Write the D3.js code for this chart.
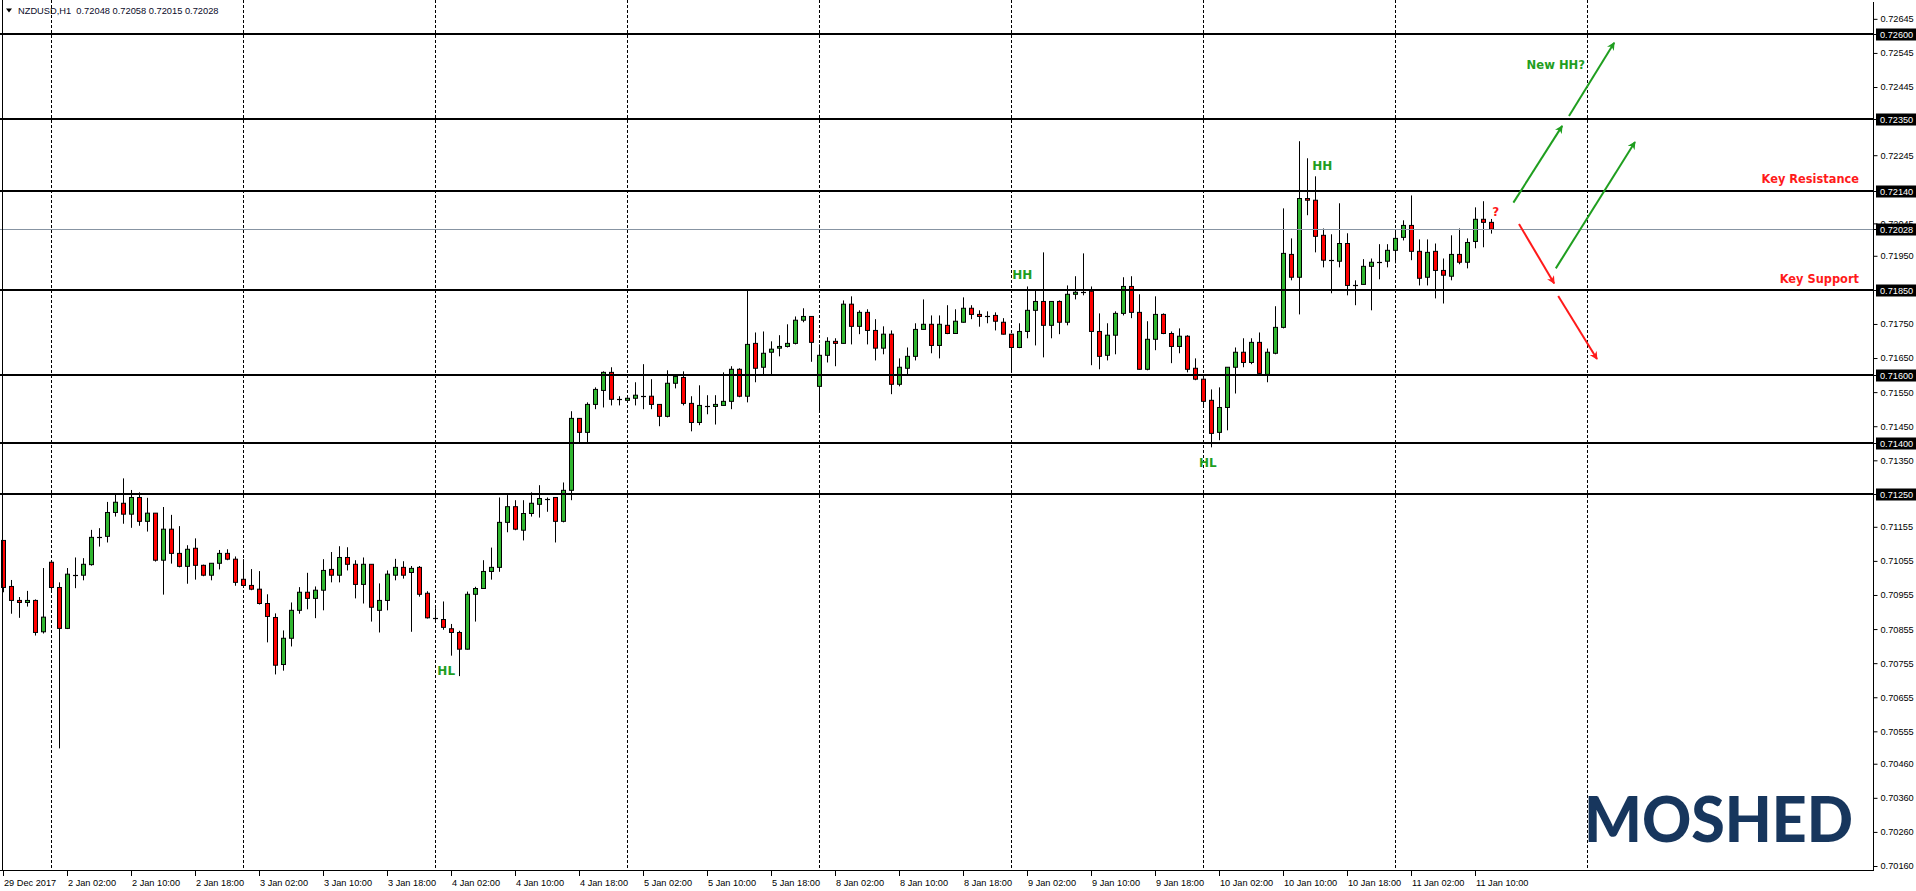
<!DOCTYPE html>
<html><head><meta charset="utf-8">
<script src="https://cdn.jsdelivr.net/npm/d3@7"></script>
<style>html,body{margin:0;padding:0;background:#fff;overflow:hidden}</style>
</head><body><svg id="c" width="1916" height="891"></svg>
<script>
// ---------- DATA ----------
const sessions = [["29 Dec",18,23],["2 Jan",0,23],["3 Jan",0,23],["4 Jan",0,23],["5 Jan",0,23],["8 Jan",0,23],["9 Jan",0,23],["10 Jan",0,23],["11 Jan",0,12]];
const times = [];
sessions.forEach(([d,h0,h1]) => { for (let h = h0; h <= h1; h++) times.push(d + " " + String(h).padStart(2,"0") + ":00"); });

const open = [0.71115,0.70980,0.70939,0.70933,0.70939,0.70847,
0.71051,0.70977,0.70857,0.71014,0.71013,0.71044,0.71125,0.71127,0.71197,0.71224,0.71192,0.71241,0.71171,0.71195,0.71057,0.71148,0.71077,0.71039,0.71092,0.71042,0.71013,0.71048,0.71077,0.71060,
0.71001,0.70983,0.70972,0.70930,0.70889,0.70751,0.70828,0.70910,0.70963,0.70945,0.70969,0.71030,0.71013,0.71065,0.71045,0.70986,0.71045,0.70910,0.70939,0.71013,0.71036,0.71021,0.71036,0.70960,
0.70886,0.70883,0.70856,0.70845,0.70796,0.70957,0.70974,0.71024,0.71036,0.71168,0.71214,0.71145,0.71194,0.71221,0.71238,0.71241,0.71171,0.71262,0.71473,0.71432,0.71514,0.71555,0.71608,0.71529,
0.71526,0.71532,0.71539,0.71538,0.71514,0.71479,0.71576,0.71593,0.71517,0.71461,0.71509,0.71508,0.71511,0.71523,0.71617,0.71538,0.71693,0.71623,0.71667,0.71679,0.71684,0.71693,0.71761,0.71772,
0.71567,0.71658,0.71699,0.71693,0.71808,0.71743,0.71784,0.71731,0.71679,0.71720,0.71573,0.71620,0.71655,0.71734,0.71749,0.71687,0.71746,0.71722,0.71755,0.71796,0.71778,0.71774,0.71775,0.71755,
0.71720,0.71681,0.71728,0.71790,0.71816,0.71746,0.71816,0.71755,0.71837,0.71843,0.71846,0.71728,0.71658,0.71717,0.71781,0.71860,0.71784,0.71617,0.71705,0.71778,0.71722,0.71684,0.71714,0.71620,
0.71588,0.71526,0.71432,0.71505,0.71623,0.71667,0.71637,0.71696,0.71602,0.71664,0.71740,0.71954,0.71887,0.72118,0.72113,0.72010,0.71937,0.71934,0.71986,0.71865,0.71866,0.71919,0.71931,0.71934,
0.71966,0.72004,0.72039,0.71963,0.71887,0.71963,0.71907,0.71890,0.71954,0.71931,0.71992,0.72057,0.72048];
const high = [0.71115,0.70999,0.70949,0.70967,0.70942,0.71034,
0.71056,0.70992,0.71034,0.71065,0.71063,0.71146,0.71151,0.71228,0.71250,0.71297,0.71263,0.71256,0.71240,0.71195,0.71213,0.71190,0.71157,0.71101,0.71121,0.71044,0.71048,0.71087,0.71089,0.71068,
0.71060,0.71031,0.71025,0.70957,0.70901,0.70851,0.70933,0.70978,0.71020,0.70980,0.71060,0.71081,0.71098,0.71095,0.71057,0.71065,0.71045,0.70989,0.71027,0.71061,0.71054,0.71040,0.71040,0.70966,
0.70916,0.70936,0.70870,0.70850,0.70965,0.70979,0.71057,0.71094,0.71241,0.71248,0.71233,0.71233,0.71256,0.71277,0.71241,0.71242,0.71285,0.71494,0.71474,0.71520,0.71564,0.71611,0.71623,0.71538,
0.71532,0.71579,0.71632,0.71588,0.71514,0.71614,0.71602,0.71611,0.71538,0.71570,0.71541,0.71541,0.71608,0.71626,0.71620,0.71847,0.71725,0.71728,0.71699,0.71717,0.71749,0.71772,0.71796,0.71773,
0.71690,0.71711,0.71708,0.71819,0.71831,0.71790,0.71793,0.71764,0.71743,0.71731,0.71649,0.71681,0.71752,0.71822,0.71775,0.71775,0.71805,0.71793,0.71828,0.71805,0.71790,0.71787,0.71784,0.71767,
0.71721,0.71752,0.71860,0.71849,0.71960,0.71817,0.71819,0.71863,0.71890,0.71957,0.71860,0.71781,0.71752,0.71787,0.71887,0.71890,0.71837,0.71758,0.71831,0.71781,0.71728,0.71737,0.71717,0.71649,
0.71591,0.71558,0.71564,0.71623,0.71681,0.71708,0.71708,0.71725,0.71678,0.71802,0.72089,0.72001,0.72286,0.72236,0.72183,0.72030,0.72013,0.72104,0.72016,0.71878,0.71940,0.71942,0.71984,0.71984,
0.72028,0.72054,0.72127,0.71998,0.71998,0.71986,0.71942,0.72010,0.72030,0.72001,0.72092,0.72110,0.72058];
const low = [0.70963,0.70900,0.70888,0.70921,0.70836,0.70842,
0.70970,0.70505,0.70855,0.70975,0.70998,0.71041,0.71097,0.71109,0.71185,0.71164,0.71152,0.71158,0.71141,0.71053,0.70956,0.71047,0.71036,0.70988,0.71000,0.71010,0.70998,0.71030,0.71057,0.70982,
0.70980,0.70969,0.70927,0.70816,0.70722,0.70733,0.70804,0.70900,0.70913,0.70887,0.70910,0.70992,0.70992,0.71027,0.70945,0.70930,0.70877,0.70845,0.70910,0.70998,0.71003,0.70847,0.70950,0.70886,
0.70882,0.70853,0.70777,0.70717,0.70795,0.70877,0.70973,0.71000,0.71023,0.71139,0.71145,0.71115,0.71185,0.71182,0.71199,0.71109,0.71168,0.71233,0.71403,0.71403,0.71500,0.71505,0.71511,0.71511,
0.71523,0.71511,0.71500,0.71500,0.71450,0.71476,0.71561,0.71511,0.71435,0.71453,0.71485,0.71455,0.71510,0.71500,0.71535,0.71520,0.71579,0.71602,0.71602,0.71655,0.71681,0.71690,0.71755,0.71639,
0.71491,0.71637,0.71626,0.71692,0.71690,0.71720,0.71690,0.71643,0.71661,0.71544,0.71567,0.71602,0.71643,0.71733,0.71664,0.71649,0.71720,0.71721,0.71754,0.71764,0.71742,0.71752,0.71731,0.71719,
0.71608,0.71679,0.71708,0.71687,0.71652,0.71708,0.71720,0.71746,0.71822,0.71834,0.71629,0.71617,0.71643,0.71661,0.71775,0.71767,0.71616,0.71614,0.71673,0.71720,0.71635,0.71664,0.71608,0.71585,
0.71510,0.71388,0.71409,0.71438,0.71546,0.71623,0.71632,0.71604,0.71579,0.71661,0.71737,0.71878,0.71778,0.72069,0.71960,0.71916,0.71840,0.71916,0.71834,0.71805,0.71865,0.71790,0.71881,0.71916,
0.71928,0.71995,0.71937,0.71863,0.71863,0.71825,0.71810,0.71878,0.71925,0.71913,0.71972,0.71975,0.72015];
const close = [0.70977,0.70939,0.70933,0.70939,0.70845,0.70890,
0.70977,0.70857,0.71016,0.71015,0.71045,0.71124,0.71126,0.71197,0.71227,0.71192,0.71241,0.71171,0.71195,0.71057,0.71148,0.71077,0.71039,0.71089,0.71042,0.71013,0.71048,0.71077,0.71060,0.70992,
0.70983,0.70972,0.70930,0.70892,0.70749,0.70828,0.70910,0.70963,0.70945,0.70969,0.71027,0.71013,0.71065,0.71045,0.70986,0.71045,0.70919,0.70939,0.71016,0.71036,0.71013,0.71033,0.70957,0.70888,
0.70885,0.70860,0.70845,0.70796,0.70957,0.70974,0.71024,0.71036,0.71168,0.71214,0.71148,0.71194,0.71224,0.71238,0.71239,0.71171,0.71262,0.71473,0.71432,0.71514,0.71558,0.71608,0.71529,0.71529,
0.71532,0.71541,0.71540,0.71514,0.71479,0.71576,0.71596,0.71517,0.71461,0.71511,0.71510,0.71514,0.71523,0.71617,0.71538,0.71690,0.71620,0.71664,0.71676,0.71684,0.71693,0.71761,0.71772,0.71696,
0.71658,0.71699,0.71693,0.71808,0.71743,0.71784,0.71731,0.71679,0.71720,0.71573,0.71623,0.71655,0.71734,0.71749,0.71687,0.71749,0.71722,0.71758,0.71796,0.71778,0.71772,0.71774,0.71758,0.71720,
0.71681,0.71728,0.71790,0.71816,0.71746,0.71816,0.71755,0.71837,0.71843,0.71843,0.71728,0.71655,0.71717,0.71781,0.71860,0.71784,0.71617,0.71705,0.71778,0.71722,0.71684,0.71714,0.71617,0.71588,
0.71523,0.71429,0.71505,0.71623,0.71667,0.71637,0.71696,0.71605,0.71667,0.71740,0.71957,0.71887,0.72118,0.72113,0.72007,0.71937,0.71936,0.71986,0.71863,0.71864,0.71919,0.71931,0.71933,0.71966,
0.72001,0.72039,0.71963,0.71884,0.71960,0.71907,0.71893,0.71954,0.71931,0.71989,0.72057,0.72048,0.72028];

const levels = [0.72600, 0.72350, 0.72140, 0.71850, 0.71600, 0.71400, 0.71250];
const bidPrice = 0.72028;
const priceTicks = [0.72645,0.72545,0.72445,0.72245,0.72045,0.71950,0.71750,0.71650,0.71550,0.71450,0.71350,
  0.71155,0.71055,0.70955,0.70855,0.70755,0.70655,0.70555,0.70460,0.70360,0.70260,0.70160];
const xTickLabels = ["29 Dec 2017","2 Jan 02:00","2 Jan 10:00","2 Jan 18:00","3 Jan 02:00","3 Jan 10:00","3 Jan 18:00",
  "4 Jan 02:00","4 Jan 10:00","4 Jan 18:00","5 Jan 02:00","5 Jan 10:00","5 Jan 18:00","8 Jan 02:00","8 Jan 10:00",
  "8 Jan 18:00","9 Jan 02:00","9 Jan 10:00","9 Jan 18:00","10 Jan 02:00","10 Jan 10:00","10 Jan 18:00","11 Jan 02:00","11 Jan 10:00"];
const gridDays = ["2 Jan","3 Jan","4 Jan","5 Jan","8 Jan","9 Jan","10 Jan","11 Jan","12 Jan"];
const title = "NZDUSD,H1  0.72048 0.72058 0.72015 0.72028";

// annotations: [bar index, price]
const greenArrows = [[[188.8,0.72106],[194.9,0.72331]], [[195.75,0.72360],[201.4,0.72575]], [[194.1,0.71913],[204.0,0.72284]]];
const redArrows = [[[189.5,0.72043],[193.9,0.71869]], [[194.4,0.71832],[199.25,0.71647]]];
const notes = [
  {t:"HL", i:55.4, p:0.70720, c:"g", a:"middle", s:12},
  {t:"HH", i:127.4, p:0.71882, c:"g", a:"middle", s:12},
  {t:"HH", i:164.9, p:0.72202, c:"g", a:"middle", s:12},
  {t:"HL", i:150.6, p:0.71330, c:"g", a:"middle", s:12},
  {t:"?", i:186.6, p:0.72067, c:"r", a:"middle", s:12},
  {t:"New HH?", i:194.1, p:0.72498, c:"g", a:"middle", s:11.6},
  {t:"Key Resistance", i:232.0, p:0.72163, c:"r", a:"end", s:11.4},
  {t:"Key Support", i:232.0, p:0.71870, c:"r", a:"end", s:11.4}
];

// ---------- CHART ----------
const W = 1916, H = 891;
const plotL = 0, plotR = 1873, plotB = 870;
const GREEN = "#2fb52f", RED = "#ff0000", AGREEN = "#1f9e1f", ARED = "#ff1a1a";
const svg = d3.select("#c");
const x = d3.scaleLinear().domain([0, times.length - 1]).range([3, 3 + 8 * (times.length - 1)]);
const y = d3.scaleLinear().domain([0.72140, 0.70160]).range([191, 866]);

const bars = times.map((t, k) => ({t, k, o: open[k], h: high[k], l: low[k], c: close[k]}));

// vertical dashed grid at day starts
let gridIdx = [];
gridDays.forEach(d => {
  const k = times.indexOf(d + " 00:00");
  gridIdx.push(k >= 0 ? k : gridIdx[gridIdx.length - 1] + 24);
});
svg.append("g").selectAll("line").data(gridIdx).join("line")
  .attr("x1", k => x(k) + 0.5).attr("x2", k => x(k) + 0.5)
  .attr("y1", 0).attr("y2", plotB)
  .attr("stroke", "#000").attr("stroke-width", 1).attr("stroke-dasharray", "3,2");

// candles
const cg = svg.append("g");
cg.selectAll("line.wick").data(bars).join("line").attr("class", "wick")
  .attr("x1", d => x(d.k) + 0.5).attr("x2", d => x(d.k) + 0.5)
  .attr("y1", d => y(d.h)).attr("y2", d => y(d.l))
  .attr("stroke", "#000").attr("stroke-width", 1);
const isDoji = d => Math.abs(y(d.o) - y(d.c)) < 1.2;
cg.selectAll("rect.body").data(bars.filter(d => !isDoji(d))).join("rect").attr("class", "body")
  .attr("x", d => x(d.k) - 1.5).attr("width", 4)
  .attr("y", d => y(Math.max(d.o, d.c))).attr("height", d => Math.abs(y(d.o) - y(d.c)))
  .attr("fill", d => d.c > d.o ? GREEN : RED)
  .attr("stroke", "#000").attr("stroke-width", 1);
cg.selectAll("line.doji").data(bars.filter(isDoji)).join("line").attr("class", "doji")
  .attr("x1", d => x(d.k) - 2).attr("x2", d => x(d.k) + 3)
  .attr("y1", d => Math.round(y(d.o)) + 0.5).attr("y2", d => Math.round(y(d.o)) + 0.5)
  .attr("stroke", "#000").attr("stroke-width", 1.2);

// bid line
svg.append("line").attr("x1", plotL).attr("x2", plotR)
  .attr("y1", Math.round(y(bidPrice)) + 0.5).attr("y2", Math.round(y(bidPrice)) + 0.5)
  .attr("stroke", "#8794a2").attr("stroke-width", 1);

// horizontal levels
svg.append("g").selectAll("line").data(levels).join("line")
  .attr("x1", plotL).attr("x2", plotR)
  .attr("y1", d => Math.round(y(d))).attr("y2", d => Math.round(y(d)))
  .attr("stroke", "#000").attr("stroke-width", 2);

// arrows
const defs = svg.append("defs");
[["ag", AGREEN], ["ar", ARED]].forEach(([id, col]) => {
  defs.append("marker").attr("id", id).attr("viewBox", "0 0 10 10")
    .attr("refX", 9).attr("refY", 5).attr("markerWidth", 9).attr("markerHeight", 8)
    .attr("markerUnits", "userSpaceOnUse").attr("orient", "auto")
    .append("path").attr("d", "M0,0 L10,5 L0,10 L3,5 Z").attr("fill", col);
});
const ag = svg.append("g");
ag.selectAll("line.g").data(greenArrows).join("line").attr("class", "g")
  .attr("x1", d => x(d[0][0])).attr("y1", d => y(d[0][1]))
  .attr("x2", d => x(d[1][0])).attr("y2", d => y(d[1][1]))
  .attr("stroke", AGREEN).attr("stroke-width", 2).attr("marker-end", "url(#ag)");
ag.selectAll("line.r").data(redArrows).join("line").attr("class", "r")
  .attr("x1", d => x(d[0][0])).attr("y1", d => y(d[0][1]))
  .attr("x2", d => x(d[1][0])).attr("y2", d => y(d[1][1]))
  .attr("stroke", ARED).attr("stroke-width", 2).attr("marker-end", "url(#ar)");

// notes
svg.append("g").selectAll("text").data(notes).join("text")
  .attr("x", d => x(d.i)).attr("y", d => y(d.p))
  .attr("text-anchor", d => d.a)
  .attr("font-family", "DejaVu Sans, Verdana, sans-serif").attr("font-weight", "bold")
  .attr("font-size", d => d.s)
  .attr("fill", d => d.c === "g" ? AGREEN : ARED)
  .text(d => d.t);

// frame
svg.append("line").attr("x1", 2.5).attr("x2", 2.5).attr("y1", 0).attr("y2", plotB).attr("stroke", "#000");
svg.append("line").attr("x1", 0).attr("x2", plotR + 1).attr("y1", plotB + 0.5).attr("y2", plotB + 0.5).attr("stroke", "#000");
svg.append("line").attr("x1", plotR + 0.5).attr("x2", plotR + 0.5).attr("y1", 2).attr("y2", plotB + 1).attr("stroke", "#000");

// right price axis
const yAxis = d3.axisRight(y).tickValues(priceTicks).tickSize(4).tickPadding(3).tickFormat(d3.format(".5f"));
const ya = svg.append("g").attr("transform", `translate(${plotR + 0.5},0)`).call(yAxis);
ya.select(".domain").remove();
ya.selectAll("text").attr("font-family", "Liberation Sans, Arial, sans-serif").attr("font-size", 9.2).attr("fill", "#000");
ya.selectAll("line").attr("stroke", "#000");

// price boxes for levels + bid
const boxVals = levels.concat([bidPrice]);
const bx = svg.append("g").selectAll("g").data(boxVals).join("g")
  .attr("transform", d => `translate(${plotR + 1},${Math.round(y(d))})`);
bx.append("line").attr("x1", 0).attr("x2", 4).attr("y1", 0.5).attr("y2", 0.5).attr("stroke", "#000");
bx.append("rect").attr("x", 2).attr("y", -5.5).attr("width", W - plotR - 3).attr("height", 12).attr("fill", "#000");
bx.append("text").attr("x", 6).attr("y", 4).attr("font-family", "Liberation Sans, Arial, sans-serif")
  .attr("font-size", 9.2).attr("fill", "#fff").text(d => d3.format(".5f")(d));

// bottom time axis
const xTickIdx = xTickLabels.map((s, j) => j === 0 ? 0 : times.indexOf(s));
const xg = svg.append("g").selectAll("g").data(xTickLabels).join("g")
  .attr("transform", (s, j) => `translate(${x(xTickIdx[j])},${plotB})`);
xg.append("line").attr("x1", 0.5).attr("x2", 0.5).attr("y1", 1).attr("y2", 6).attr("stroke", "#000");
xg.append("text").attr("x", 1).attr("y", 16).attr("font-family", "Liberation Sans, Arial, sans-serif")
  .attr("font-size", 9.2).attr("fill", "#000").text(s => s);

// title
svg.append("path").attr("d", "M6,8.5 L12,8.5 L9,12.5 Z").attr("fill", "#000");
svg.append("text").attr("x", 18).attr("y", 14).attr("font-family", "Liberation Sans, Arial, sans-serif")
  .attr("font-size", 9.3).attr("fill", "#0a0a28").style("white-space", "pre").text(title);

// logo
svg.append("text").attr("x", 1584).attr("y", 842).attr("font-family", "Lato, sans-serif").attr("font-weight", 900)
  .attr("font-size", 63).attr("fill", "#17365d").attr("textLength", 269).attr("lengthAdjust", "spacingAndGlyphs").text("MOSHED");
</script></body></html>
